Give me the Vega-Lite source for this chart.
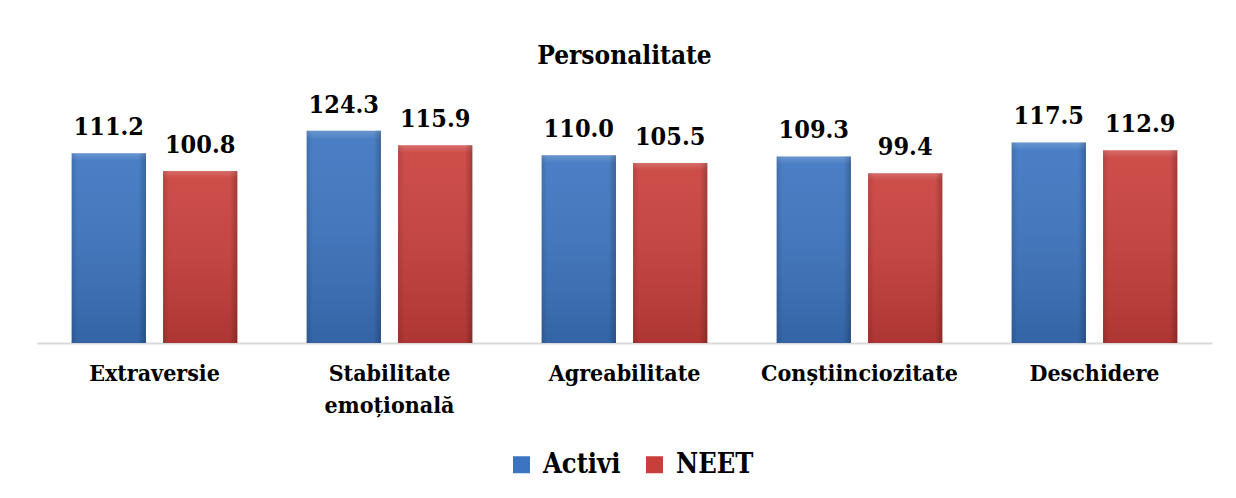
{
  "$schema": "https://vega.github.io/schema/vega-lite/v6.json",
  "autosize": {"type": "none"},
  "width": 1175,
  "height": 239,
  "padding": {"left": 37, "top": 104, "right": 24, "bottom": 155},
  "background": "white",
  "title": {
    "text": "Personalitate",
    "font": "DejaVu Serif Condensed",
    "fontSize": 26,
    "fontWeight": "bold",
    "color": "black",
    "anchor": "middle",
    "baseline": "alphabetic",
    "offset": 3
  },
  "config": {
    "view": {"stroke": null}
  },
  "data": {
    "values": [
      {"categorie": "Extraversie", "grupa": "Activi", "valoare": 111.2},
      {"categorie": "Extraversie", "grupa": "NEET", "valoare": 100.8},
      {"categorie": "Stabilitate emoțională", "grupa": "Activi", "valoare": 124.3},
      {"categorie": "Stabilitate emoțională", "grupa": "NEET", "valoare": 115.9},
      {"categorie": "Agreabilitate", "grupa": "Activi", "valoare": 110.0},
      {"categorie": "Agreabilitate", "grupa": "NEET", "valoare": 105.5},
      {"categorie": "Conștiinciozitate", "grupa": "Activi", "valoare": 109.3},
      {"categorie": "Conștiinciozitate", "grupa": "NEET", "valoare": 99.4},
      {"categorie": "Deschidere", "grupa": "Activi", "valoare": 117.5},
      {"categorie": "Deschidere", "grupa": "NEET", "valoare": 112.9}
    ]
  },
  "encoding": {
    "x": {
      "field": "categorie",
      "type": "nominal",
      "sort": null,
      "title": null,
      "scale": {"paddingInner": 0.295, "paddingOuter": 0.1475},
      "axis": {
        "labelAngle": 0,
        "labelFont": "DejaVu Serif Condensed",
        "labelFontSize": 23,
        "labelFontWeight": "bold",
        "labelColor": "black",
        "labelPadding": 19,
        "labelLineHeight": 32,
        "labelLimit": 0,
        "labelExpr": "datum.label == 'Stabilitate emoțională' ? ['Stabilitate', 'emoțională'] : datum.label",
        "ticks": false,
        "domainColor": "#d9d9d9",
        "domainWidth": 2,
        "grid": false
      }
    },
    "xOffset": {
      "field": "grupa",
      "type": "nominal",
      "sort": ["Activi", "NEET"],
      "scale": {"paddingInner": 0.187, "paddingOuter": 0}
    },
    "y": {
      "field": "valoare",
      "type": "quantitative",
      "scale": {"domain": [0, 140], "nice": false},
      "axis": null
    }
  },
  "layer": [
    {
      "mark": {"type": "bar"},
      "encoding": {
        "color": {
          "field": "grupa",
          "type": "nominal",
          "sort": ["Activi", "NEET"],
          "scale": {"domain": ["Activi", "NEET"], "range": ["#3b74c0", "#c93e3a"]},
          "legend": {
            "title": null,
            "orient": "none",
            "legendX": 471,
            "legendY": 347,
            "direction": "horizontal",
            "symbolType": "square",
            "symbolSize": 289,
            "symbolStrokeWidth": 0,
            "labelFont": "DejaVu Serif Condensed",
            "labelFontSize": 27,
            "labelFontWeight": "bold",
            "labelColor": "black",
            "labelOffset": 8,
            "columnPadding": 20
          }
        }
      }
    },
    {
      "mark": {
        "type": "bar",
        "fill": {
          "gradient": "linear",
          "x1": 0, "y1": 0, "x2": 0, "y2": 1,
          "stops": [
            {"offset": 0, "color": "rgba(255,255,255,0.25)"},
            {"offset": 0.04, "color": "rgba(255,255,255,0.08)"},
            {"offset": 1, "color": "rgba(0,0,0,0.14)"}
          ]
        }
      }
    },
    {
      "mark": {
        "type": "bar",
        "fill": {
          "gradient": "linear",
          "x1": 0, "y1": 0, "x2": 1, "y2": 0,
          "stops": [
            {"offset": 0, "color": "rgba(0,0,0,0.12)"},
            {"offset": 0.08, "color": "rgba(0,0,0,0)"},
            {"offset": 0.9, "color": "rgba(0,0,0,0)"},
            {"offset": 1, "color": "rgba(0,0,0,0.22)"}
          ]
        }
      }
    },
    {
      "mark": {
        "type": "text",
        "font": "DejaVu Serif Condensed",
        "fontSize": 25,
        "fontWeight": "bold",
        "color": "black",
        "baseline": "alphabetic",
        "dy": -18
      },
      "encoding": {
        "text": {"field": "valoare", "type": "quantitative", "format": ".1f"}
      }
    }
  ]
}
